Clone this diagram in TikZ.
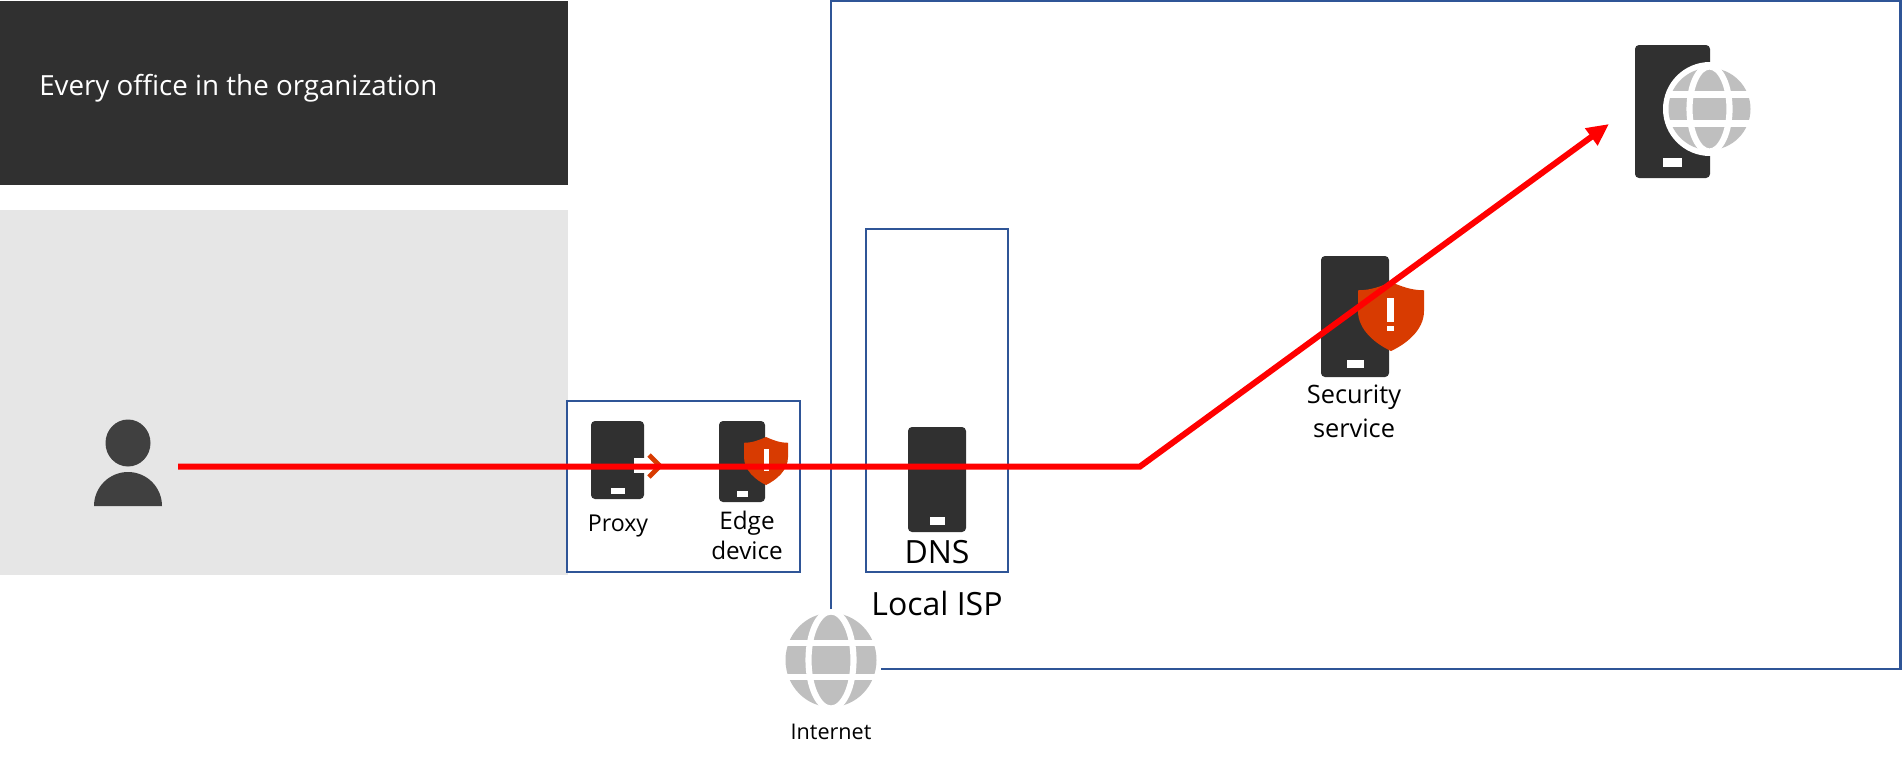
\documentclass[tikz,border=0pt]{standalone}
\usepackage{fontspec}
\setmainfont{Open Sans}
\usetikzlibrary{arrows.meta}
\definecolor{srvcol}{HTML}{303030}
\definecolor{blueline}{HTML}{2F5597}
\definecolor{lightbg}{HTML}{E6E6E6}
\definecolor{shieldcol}{HTML}{D83B01}
\definecolor{globecol}{HTML}{BFBFBF}
\definecolor{personcol}{HTML}{404040}
\definecolor{flowred}{HTML}{FF0000}
\tikzset{
  srvstyle/.style={fill=srvcol,draw=none,rounded corners=3pt,inner sep=0pt,outer sep=0pt},
  boxstyle/.style={draw=blueline,line width=1.7pt},
  labelsmall/.style={inner sep=0pt,align=center,text=black},
  label24/.style={font=\fontsize{24}{28}\selectfont,inner sep=0pt,text=black},
  flow/.style={draw=flowred,line width=4.5pt,line join=miter},
}
% name, x1,y1,x2,y2
\newcommand\srvbox[5]{%
  \pgfmathsetmacro\srvW{(#4-#2)*0.75}\pgfmathsetmacro\srvH{(#5-#3)*0.75}%
  \node[srvstyle,minimum width=\srvW pt,minimum height=\srvH pt] (#1) at ({(#2+#4)/2},{(#3+#5)/2}) {};}
% cx, top, halfwidth, height
\newcommand\shieldicon[4]{%
  \begin{scope}[shift={(#1,#2)},xscale=#3,yscale=#4]
    \fill[shieldcol] (-1,.12) .. controls (-.6,.12) and (-.3,.06) .. (0,0)
      .. controls (.3,.06) and (.6,.12) .. (1,.12) -- (1,.42)
      .. controls (1,.70) and (.45,.90) .. (0,1)
      .. controls (-.45,.90) and (-1,.70) .. (-1,.42) -- cycle;
  \end{scope}}
% cx, cy, rx, ry, lens rx, band offset
\newcommand\globeicon[6]{%
  \begin{scope}
    \clip (#1,#2) ellipse [x radius=#3+1,y radius=#4+1];
    \fill[globecol] (#1,#2) ellipse [x radius=#3,y radius=#4];
    \draw[white,line width=4.6pt] (#1,#2) ellipse [x radius=#5,y radius=#4+1.5];
    \fill[white] (#1-#3-2,#2-#6-3.2) rectangle (#1+#3+2,#2-#6+3.2);
    \fill[white] (#1-#3-2,#2+#6-3.2) rectangle (#1+#3+2,#2+#6+3.2);
  \end{scope}}
\begin{document}
\begin{tikzpicture}[x=0.75pt,y=-0.75pt]
\useasboundingbox (0,0) rectangle (1902,758);
\fill[white] (0,0) rectangle (1902,758);
% office panels
\fill[srvcol] (0,1) rectangle (568,185);
\fill[lightbg] (0,210) rectangle (568,575);
\node[anchor=west,text=white,font=\fontsize{20.8}{24}\selectfont,inner sep=0pt] (office) at (39,88) {Every office in the organization};
% boxes
\draw[boxstyle] (831,609) -- (831,1) -- (1900.5,1) -- (1900.5,669) -- (881,669);
\draw[boxstyle] (866,229) rectangle (1008,572);
\draw[boxstyle] (567,401) rectangle (800,572);
% person
\fill[personcol] (128,443) ellipse [x radius=22.5,y radius=23.5];
\fill[personcol] (94,506) arc [start angle=180,end angle=360,x radius=34,y radius=34] -- cycle;
% proxy
\srvbox{proxy}{591}{421}{644}{499}
\fill[white] (611,488) rectangle (625,494);
\fill[white] (634,458) rectangle (652,473);
\draw[shieldcol,line width=3.6pt] (649,455) -- (660,466) -- (649,477);
\node[labelsmall,font=\fontsize{17.4}{20}\selectfont] (proxylabel) at (618,526) {Proxy};
% edge device
\srvbox{edge}{719}{421}{765}{502}
\fill[white] (737,491) rectangle (748,497);
\shieldicon{766}{437}{22}{48}
\fill[white] (764,449) rectangle (769,471);
\node[labelsmall,font=\fontsize{18.2}{22.7}\selectfont] (edgelabel) at (747,535.5) {Edge\\device};
% DNS
\srvbox{dns}{908}{427}{966}{532}
\fill[white] (930,517) rectangle (945,525);
\node[label24] (dnslabel) at (937,552) {DNS};
\node[label24] (isplabel) at (937,603) {Local ISP};
% security service
\srvbox{sec}{1321}{256}{1389}{377}
\fill[white] (1347,360) rectangle (1364,368);
\shieldicon{1391}{282}{33}{69}
\fill[white] (1387,298) rectangle (1394,322);
\fill[white] (1387,326) rectangle (1394,331);
\node[labelsmall,font=\fontsize{19}{25.5}\selectfont] (seclabel) at (1354,411) {Security\\service};
% destination
\srvbox{dest}{1635}{45}{1710}{178}
\fill[white] (1663,158) rectangle (1682,167);
\fill[white] (1710,109) ellipse [x radius=47,y radius=47];
\globeicon{1709.5}{109}{41}{41}{20}{14.5}
% internet
\globeicon{831}{660}{45.5}{47}{22.5}{17}
\node[labelsmall,font=\fontsize{16.2}{20}\selectfont] (netlabel) at (831,732) {Internet};
% flow
\coordinate (flowstart) at (178,466.5);
\coordinate (flowbend) at (1140,466.5);
\coordinate (flowend) at (1609,124);
\draw[flow,-{Triangle[length=16.5pt,width=15pt]}] (flowstart) -- (flowbend) -- (flowend);
\end{tikzpicture}
\end{document}
